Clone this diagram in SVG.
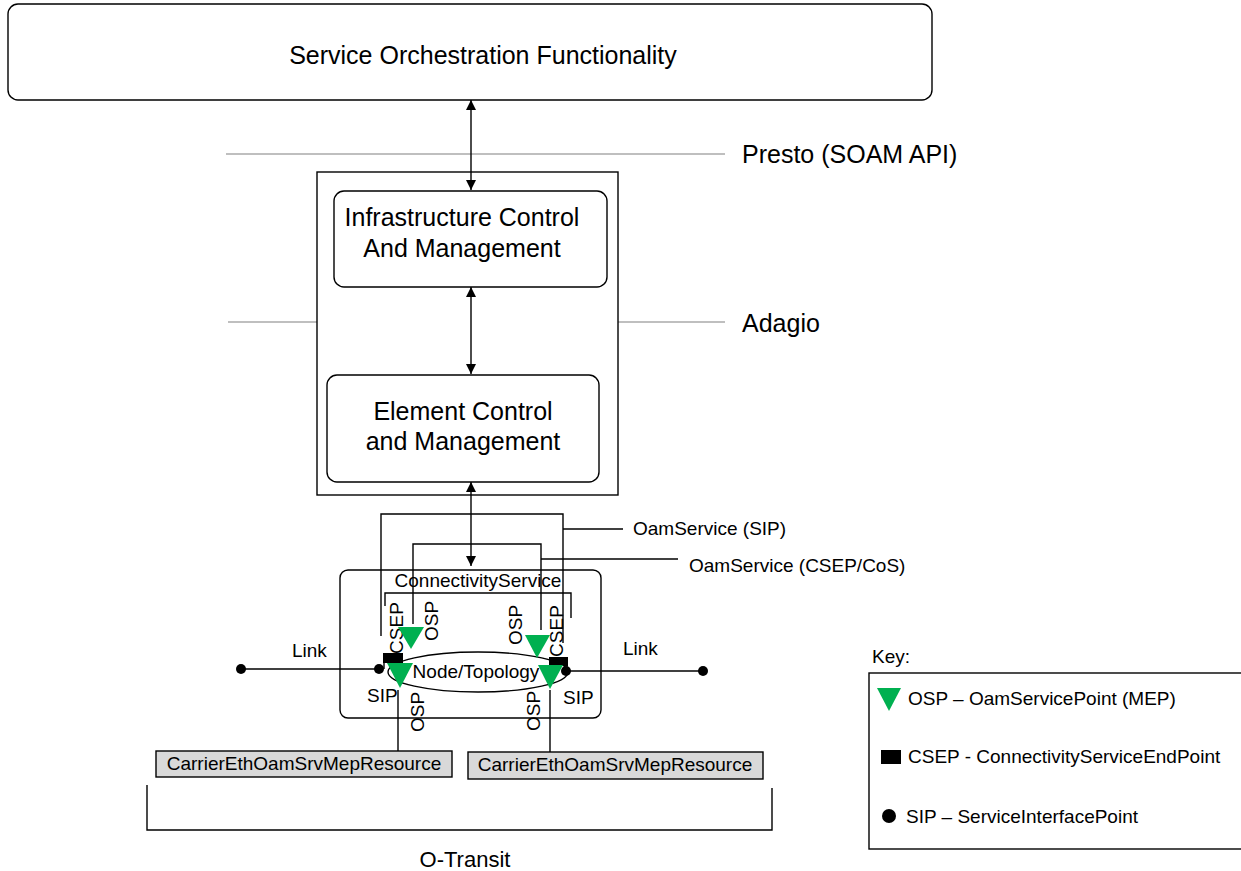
<svg xmlns="http://www.w3.org/2000/svg" width="1241" height="871" viewBox="0 0 1241 871">
<style>
text{font-family:"Liberation Sans",Arial,sans-serif;fill:#000}
.big{font-size:25px}
.sm{font-size:19px}
.box{fill:#fff;stroke:#000;stroke-width:1.4}
.ln{fill:none;stroke:#000;stroke-width:1.4}
.gray{fill:none;stroke:#aaa;stroke-width:1.4}
.osp{fill:#00b050}
.res{fill:#d9d9d9;stroke:#000;stroke-width:1.4}
</style>
<defs>
<marker id="ah" viewBox="0 0 10 10" refX="10" refY="5" markerWidth="10" markerHeight="10" markerUnits="userSpaceOnUse" orient="auto-start-reverse">
<path d="M0,0 L10,5 L0,10 z" fill="#000"/>
</marker>
</defs>
<rect width="1241" height="871" fill="#fff"/>

<g id="interfaces">
<line class="gray" x1="226" y1="154" x2="725" y2="154"/>
<text class="big" x="742" y="163">Presto (SOAM API)</text>
<line class="gray" x1="228" y1="322" x2="725" y2="322"/>
<text class="big" x="742" y="332">Adagio</text>
</g>

<g id="sof">
<rect class="box" x="8" y="4" width="924" height="96" rx="10"/>
<text class="big" x="483" y="64" text-anchor="middle">Service Orchestration Functionality</text>
</g>

<g id="container">
<rect class="box" x="317" y="172" width="301" height="323"/>
</g>

<g id="icm">
<rect class="box" x="334" y="191" width="273" height="96" rx="10"/>
<text class="big" x="462" y="226" text-anchor="middle">Infrastructure Control</text>
<text class="big" x="462" y="257" text-anchor="middle">And Management</text>
</g>

<g id="ecm">
<rect class="box" x="327" y="375" width="272" height="107" rx="10"/>
<text class="big" x="463" y="420" text-anchor="middle">Element Control</text>
<text class="big" x="463" y="450" text-anchor="middle">and Management</text>
</g>

<g id="connectivity-service">
<rect class="box" x="340" y="570" width="261" height="148" rx="8"/>
<text class="sm" x="478" y="587" text-anchor="middle">ConnectivityService</text>
<polyline class="ln" points="385,606 385,593 571,593 571,618"/>
</g>

<g id="connectors">
<line class="ln" x1="471" y1="100" x2="471" y2="190" marker-start="url(#ah)" marker-end="url(#ah)"/>
<line class="ln" x1="471" y1="287" x2="471" y2="374" marker-start="url(#ah)" marker-end="url(#ah)"/>
<line class="ln" x1="471" y1="482" x2="471" y2="566" marker-start="url(#ah)" marker-end="url(#ah)"/>
<polyline class="ln" points="381,636 381,514 563,514 563,643"/>
<line class="ln" x1="563" y1="529" x2="623" y2="529"/>
<polyline class="ln" points="413,624 413,544 541,544 541,630"/>
<line class="ln" x1="541" y1="559" x2="678" y2="559"/>
<line class="ln" x1="241" y1="669" x2="379" y2="669"/>
<line class="ln" x1="566" y1="671" x2="703" y2="671"/>
<line class="ln" x1="398" y1="690" x2="398" y2="751"/>
<line class="ln" x1="550" y1="690" x2="550" y2="752"/>
</g>

<g id="oam-labels">
<text class="sm" x="633" y="535">OamService (SIP)</text>
<text class="sm" x="689" y="572">OamService (CSEP/CoS)</text>
</g>

<g id="node-topology">
<ellipse class="ln" cx="478" cy="672" rx="90" ry="20"/>
<text class="sm" x="476" y="678" text-anchor="middle">Node/Topology</text>
</g>

<g id="left-endpoint">
<text class="sm" transform="translate(403,628) rotate(-90)" text-anchor="middle">CSEP</text>
<text class="sm" transform="translate(438,621) rotate(-90)" text-anchor="middle">OSP</text>
<polygon class="osp" points="398,627 424,627 411,649"/>
<rect x="383" y="653" width="20" height="10" fill="#000"/>
<line class="ln" x1="384" y1="653" x2="384" y2="669"/>
<polygon class="osp" points="387,663 413,663 400,688"/>
<circle cx="379" cy="669" r="5" fill="#000"/>
<circle cx="241" cy="669" r="5" fill="#000"/>
<text class="sm" x="292" y="657">Link</text>
<text class="sm" x="367" y="702">SIP</text>
<text class="sm" transform="translate(424,712) rotate(-90)" text-anchor="middle">OSP</text>
</g>

<g id="right-endpoint">
<text class="sm" transform="translate(522,625) rotate(-90)" text-anchor="middle">OSP</text>
<text class="sm" transform="translate(563,631) rotate(-90)" text-anchor="middle">CSEP</text>
<polygon class="osp" points="525,635 550,635 537,658"/>
<rect x="549" y="657" width="19" height="9" fill="#000"/>
<line class="ln" x1="567" y1="657" x2="567" y2="671"/>
<polygon class="osp" points="538,665 563,665 550,689"/>
<circle cx="566" cy="671" r="5" fill="#000"/>
<circle cx="703" cy="671" r="5" fill="#000"/>
<text class="sm" x="623" y="655">Link</text>
<text class="sm" x="563" y="704">SIP</text>
<text class="sm" transform="translate(540,711) rotate(-90)" text-anchor="middle">OSP</text>
</g>

<g id="mep-resource-1">
<rect class="res" x="156" y="751" width="296" height="26"/>
<text class="sm" x="304" y="770" text-anchor="middle">CarrierEthOamSrvMepResource</text>
</g>

<g id="mep-resource-2">
<rect class="res" x="468" y="752" width="295" height="27"/>
<text class="sm" x="615" y="771" text-anchor="middle">CarrierEthOamSrvMepResource</text>
</g>

<g id="o-transit">
<polyline class="ln" points="147,785 147,830 772,830 772,788"/>
<text x="465" y="867" text-anchor="middle" style="font-size:22px">O-Transit</text>
</g>

<g id="key">
<text class="sm" x="872" y="663">Key:</text>
<rect class="box" x="869" y="673" width="380" height="176"/>
<polygon class="osp" points="877,688 901,688 889,711"/>
<text class="sm" x="908" y="705">OSP – OamServicePoint (MEP)</text>
<rect x="881" y="750" width="20" height="14" fill="#000"/>
<text class="sm" x="908" y="763">CSEP - ConnectivityServiceEndPoint</text>
<circle cx="889" cy="816" r="7" fill="#000"/>
<text class="sm" x="906" y="823">SIP – ServiceInterfacePoint</text>
</g>
</svg>
